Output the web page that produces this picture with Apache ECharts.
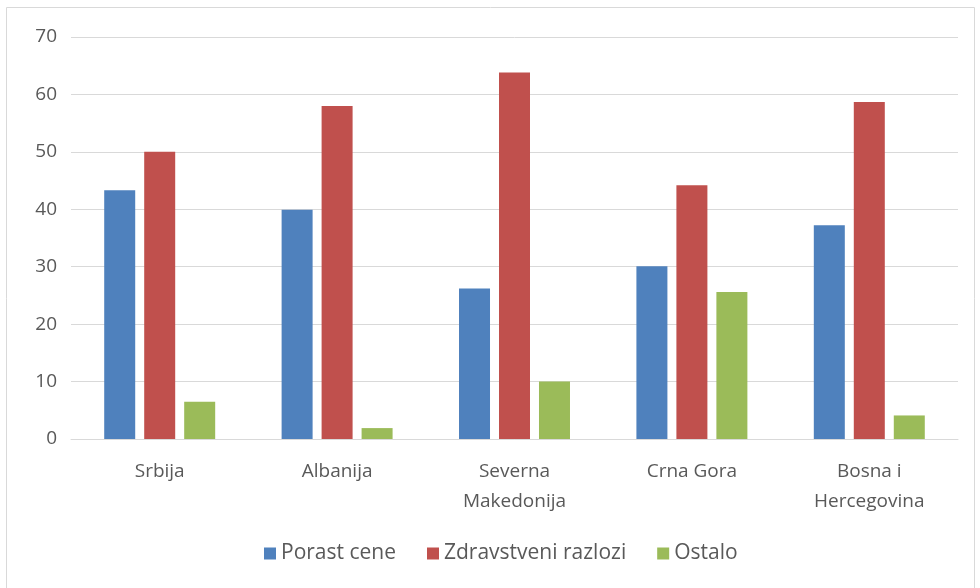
<!DOCTYPE html>
<html>
<head>
<meta charset="utf-8">
<script src="https://cdn.jsdelivr.net/npm/echarts@6/dist/echarts.min.js"></script>
<style>
  html, body { margin: 0; padding: 0; background: #fff; }
  #chart { width: 980px; height: 588px; }
</style>
</head>
<body>
<div id="chart"></div>
<script>
// kategorije i vrednosti (procenti)
const categories = ['Srbija', 'Albanija', 'Severna\nMakedonija', 'Crna Gora', 'Bosna i\nHercegovina']
const porastCene = [43.3, 39.9, 26.2, 30.1, 37.2]
const zdravstveniRazlozi = [50.0, 58.0, 63.8, 44.2, 58.7]
const ostalo = [6.5, 1.9, 10.0, 25.6, 4.1]
const yTicks = [0, 10, 20, 30, 40, 50, 60, 70]

const textColor = '#595959'
const fontFamily = '"Open Sans", "Noto Sans", sans-serif'

const chart = echarts.init(document.getElementById('chart'))

const makeSeries = (name, data) => ({
  name: name,
  type: 'bar',
  data: data,
  barWidth: 31,
  barGap: '29%',
  emphasis: { disabled: true }
})

const option = {
  animation: false,
  color: ['#4f81bd', '#c0504d', '#9bbb59'],
  graphic: [{
    type: 'rect',
    shape: { x: 6.5, y: 7.5, width: 968, height: 600 },
    style: { fill: 'none', stroke: '#d9d9d9', lineWidth: 1 },
    silent: true
  }],
  grid: {
    left: 71,
    right: 22,
    top: 37,
    bottom: 149
  },
  legend: {
    top: 538,
    left: 259,
    itemWidth: 12,
    itemHeight: 12,
    itemGap: 31,
    icon: 'rect',
    textStyle: { color: textColor, fontSize: 21, fontFamily: fontFamily },
    data: ['Porast cene', 'Zdravstveni razlozi', 'Ostalo']
  },
  xAxis: {
    type: 'category',
    data: categories,
    axisLine: { show: true, lineStyle: { color: '#d9d9d9', width: 1 } },
    axisTick: { show: false },
    axisLabel: {
      color: textColor,
      fontSize: 19,
      fontFamily: fontFamily,
      lineHeight: 30,
      margin: 18,
      interval: 0
    }
  },
  yAxis: {
    type: 'value',
    min: yTicks[0],
    max: yTicks[yTicks.length - 1],
    interval: 10,
    axisLine: { show: false },
    axisTick: { show: false },
    splitLine: { lineStyle: { color: '#d9d9d9', width: 1 } },
    axisLabel: {
      color: textColor,
      fontSize: 19,
      fontFamily: fontFamily,
      margin: 14
    }
  },
  series: [
    makeSeries('Porast cene', porastCene),
    makeSeries('Zdravstveni razlozi', zdravstveniRazlozi),
    makeSeries('Ostalo', ostalo)
  ]
}

chart.setOption(option)
</script>
</body>
</html>
